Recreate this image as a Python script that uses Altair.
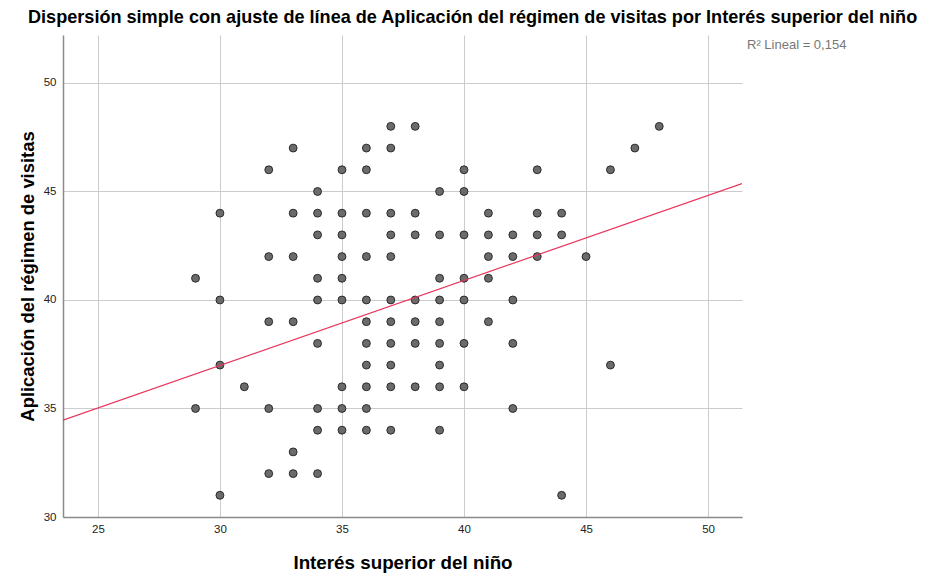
import altair as alt
import pandas as pd

# Interés superior del niño (x) and Aplicación del régimen de visitas (y)
interes = (
    [29, 29]
    + [30] * 4
    + [31]
    + [32] * 5
    + [33] * 6
    + [34] * 9
    + [35] * 9
    + [36] * 11
    + [37] * 11
    + [38] * 7
    + [39] * 9
    + [40] * 7
    + [41] * 5
    + [42] * 5
    + [43] * 4
    + [44] * 3
    + [45]
    + [46, 46]
    + [47]
    + [48]
)
aplicacion = (
    [41, 35]
    + [44, 40, 37, 31]
    + [36]
    + [46, 42, 39, 35, 32]
    + [47, 44, 42, 39, 33, 32]
    + [45, 44, 43, 41, 40, 38, 35, 34, 32]
    + [46, 44, 43, 42, 41, 40, 36, 35, 34]
    + [47, 46, 44, 42, 40, 39, 38, 37, 36, 35, 34]
    + [48, 47, 44, 43, 42, 40, 39, 38, 37, 36, 34]
    + [48, 44, 43, 40, 39, 38, 36]
    + [45, 43, 41, 40, 39, 38, 37, 36, 34]
    + [46, 45, 43, 41, 40, 38, 36]
    + [44, 43, 42, 41, 39]
    + [43, 42, 40, 38, 35]
    + [46, 44, 43, 42]
    + [44, 43, 31]
    + [42]
    + [46, 37]
    + [47]
    + [48]
)

# Linear fit shown in the chart
fit_intercept = 25.22
fit_slope = 0.392
x_domain = [23.57, 51.39]
y_domain = [30, 52.21]
x_ticks = [25, 30, 35, 40, 45, 50]
y_ticks = [30, 35, 40, 45, 50]
r2_label = ["R\u00b2 Lineal = 0,154"]

title_text = "Dispersión simple con ajuste de línea de Aplicación del régimen de visitas por Interés superior del niño"
x_title = "Interés superior del niño"
y_title = "Aplicación del régimen de visitas"

FONT = "Liberation Sans"

df = pd.DataFrame({"x": interes, "y": aplicacion})
fit_df = pd.DataFrame({"x": x_domain})
r2_df = pd.DataFrame({"t": r2_label})

xs = alt.Scale(domain=x_domain, nice=False, zero=False)
ys = alt.Scale(domain=y_domain, nice=False, zero=False)

x_axis = alt.Axis(
    values=x_ticks, grid=True, gridColor="#cccccc", gridWidth=1,
    domainColor="#8a8a8a", domainWidth=1.5, ticks=False,
    labelFont=FONT, labelFontSize=11.5, labelColor="#222222", labelPadding=6,
    title=x_title, titleFont=FONT, titleFontSize=18.8, titleFontWeight="bold",
    titleColor="#000000", titlePadding=19,
)
y_axis = alt.Axis(
    values=y_ticks, grid=True, gridColor="#cccccc", gridWidth=1,
    domainColor="#8a8a8a", domainWidth=1.5, ticks=False,
    labelFont=FONT, labelFontSize=11.5, labelColor="#222222", labelPadding=7,
    title=y_title, titleFont=FONT, titleFontSize=18.4, titleFontWeight="bold",
    titleColor="#000000", titlePadding=6,
)

points = alt.Chart(df).mark_point(
    filled=True, shape="circle", size=62, fill="#6b6b6b",
    stroke="#2b2b2b", strokeWidth=1, opacity=1,
).encode(
    x=alt.X("x:Q", scale=xs, axis=x_axis),
    y=alt.Y("y:Q", scale=ys, axis=y_axis),
)

line = alt.Chart(fit_df).transform_calculate(
    y=f"{fit_intercept} + {fit_slope} * datum.x"
).mark_line(color="#e8345c", strokeWidth=1.2, clip=True).encode(
    x=alt.X("x:Q", scale=xs),
    y=alt.Y("y:Q", scale=ys),
)

r2 = alt.Chart(r2_df).mark_text(
    align="left", baseline="middle", font=FONT, fontSize=13, color="#777777",
).encode(
    x=alt.value(684), y=alt.value(10), text="t:N",
)

chart = alt.layer(points, line, r2).properties(
    width=679, height=482,
    title=alt.TitleParams(
        title_text, anchor="start", frame="group", dx=-35, offset=8,
        font=FONT, fontSize=18.1, fontWeight="bold", color="#000000",
    ),
    padding={"left": 55, "top": 27, "right": 202, "bottom": 58},
    autosize="none",
).configure_view(strokeWidth=0)

chart.save("out.html", embed_options={"renderer": "svg", "actions": False})
